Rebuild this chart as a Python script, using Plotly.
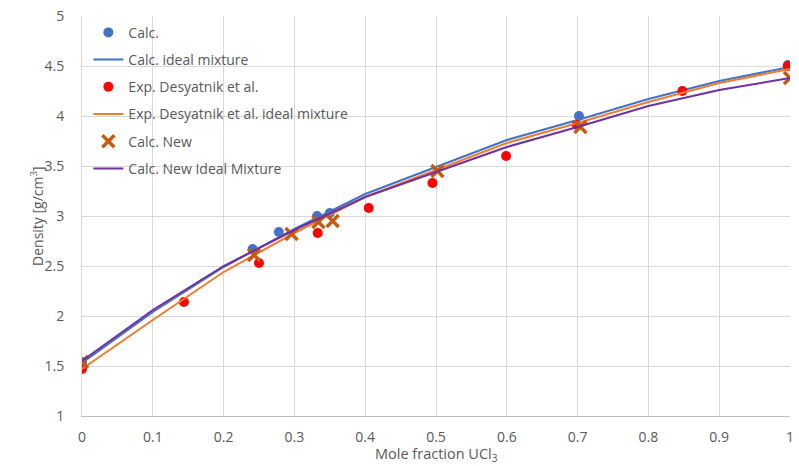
import plotly.graph_objects as go

# Calc. (points)
calc_x = [0.0, 0.241, 0.278, 0.332, 0.350, 0.702, 0.997]
calc_y = [1.54, 2.67, 2.84, 3.00, 3.03, 4.00, 4.51]

# Ideal-mixture lines sampled at 0.1 steps
ideal_x = [0.0, 0.1, 0.2, 0.3, 0.4, 0.5, 0.6, 0.7, 0.8, 0.9, 1.0]
calc_ideal_y = [1.53, 2.04, 2.49, 2.87, 3.22, 3.49, 3.76, 3.96, 4.17, 4.35, 4.49]
exp_ideal_y = [1.47, 1.96, 2.44, 2.83, 3.19, 3.46, 3.73, 3.93, 4.14, 4.33, 4.47]
new_ideal_y = [1.55, 2.06, 2.50, 2.86, 3.19, 3.44, 3.69, 3.89, 4.10, 4.26, 4.38]

# Exp. Desyatnik et al.
exp_x = [0.0, 0.144, 0.250, 0.333, 0.405, 0.495, 0.599, 0.699, 0.848, 0.997]
exp_y = [1.47, 2.14, 2.53, 2.83, 3.08, 3.33, 3.60, 3.91, 4.25, 4.50]

# Calc. New
new_x = [0.0, 0.243, 0.296, 0.334, 0.354, 0.502, 0.704, 1.0]
new_y = [1.54, 2.61, 2.82, 2.94, 2.95, 3.45, 3.89, 4.38]

x_title = "Mole fraction UCl<sub>3</sub>"
y_title = "Density [g/cm<sup>3</sup>]"

FONT = "Open Sans"
GRAY = "#595959"

fig = go.Figure()
fig.add_trace(go.Scatter(x=calc_x, y=calc_y, mode="markers", name="Calc.",
                         legendgroup="a",
                         marker=dict(color="#4472C4", size=10)))
fig.add_trace(go.Scatter(x=ideal_x, y=calc_ideal_y, mode="lines", name="Calc. ideal mixture",
                         legendgroup="b",
                         line=dict(color="#4472C4", width=2)))
fig.add_trace(go.Scatter(x=exp_x, y=exp_y, mode="markers", name="Exp. Desyatnik et al.",
                         legendgroup="c",
                         marker=dict(color="#FF0000", size=10)))
fig.add_trace(go.Scatter(x=ideal_x, y=exp_ideal_y, mode="lines", name="Exp. Desyatnik et al. ideal mixture",
                         legendgroup="d",
                         line=dict(color="#ED7D31", width=2)))
fig.add_trace(go.Scatter(x=new_x, y=new_y, mode="markers", name="Calc. New",
                         legendgroup="e",
                         marker=dict(color="#C55A11", size=12, symbol="x-thin",
                                     line=dict(color="#C55A11", width=3.5))))
fig.add_trace(go.Scatter(x=ideal_x, y=new_ideal_y, mode="lines", name="Calc. New Ideal Mixture",
                         legendgroup="f",
                         line=dict(color="#7030A0", width=2)))

fig.update_layout(
    width=799, height=466,
    margin=dict(l=82, r=9, t=16, b=50),
    paper_bgcolor="white", plot_bgcolor="white",
    font=dict(family=FONT, color=GRAY, size=14),
    showlegend=True,
    legend=dict(x=0.009, y=0.998, xanchor="left", yanchor="top",
                bgcolor="rgba(0,0,0,0)", traceorder="grouped", tracegroupgap=6,
                font=dict(family=FONT, size=14, color=GRAY)),
    xaxis=dict(range=[0, 1], dtick=0.1, tick0=0, showgrid=True, gridcolor="#d9d9d9",
               showline=True, linecolor="#bfbfbf", linewidth=1, zeroline=False,
               ticks="", ticklabelstandoff=8, automargin=False,
               tickfont=dict(size=14, color=GRAY)),
    yaxis=dict(range=[1, 5], dtick=0.5, tick0=1, showgrid=True, gridcolor="#d9d9d9",
               showline=True, linecolor="#d9d9d9", linewidth=1, zeroline=False,
               ticks="", ticklabelstandoff=14, automargin=False,
               tickfont=dict(size=14, color=GRAY)),
    annotations=[
        dict(text=x_title, xref="paper", yref="paper", x=0.5, y=-0.096,
             xanchor="center", yanchor="middle", showarrow=False,
             font=dict(family=FONT, size=14.5, color=GRAY)),
        dict(text=y_title, xref="paper", yref="paper", x=-0.0636, y=0.5,
             xanchor="center", yanchor="middle", showarrow=False, textangle=-90,
             font=dict(family=FONT, size=14, color=GRAY)),
    ],
)

fig.write_html("out.html")
